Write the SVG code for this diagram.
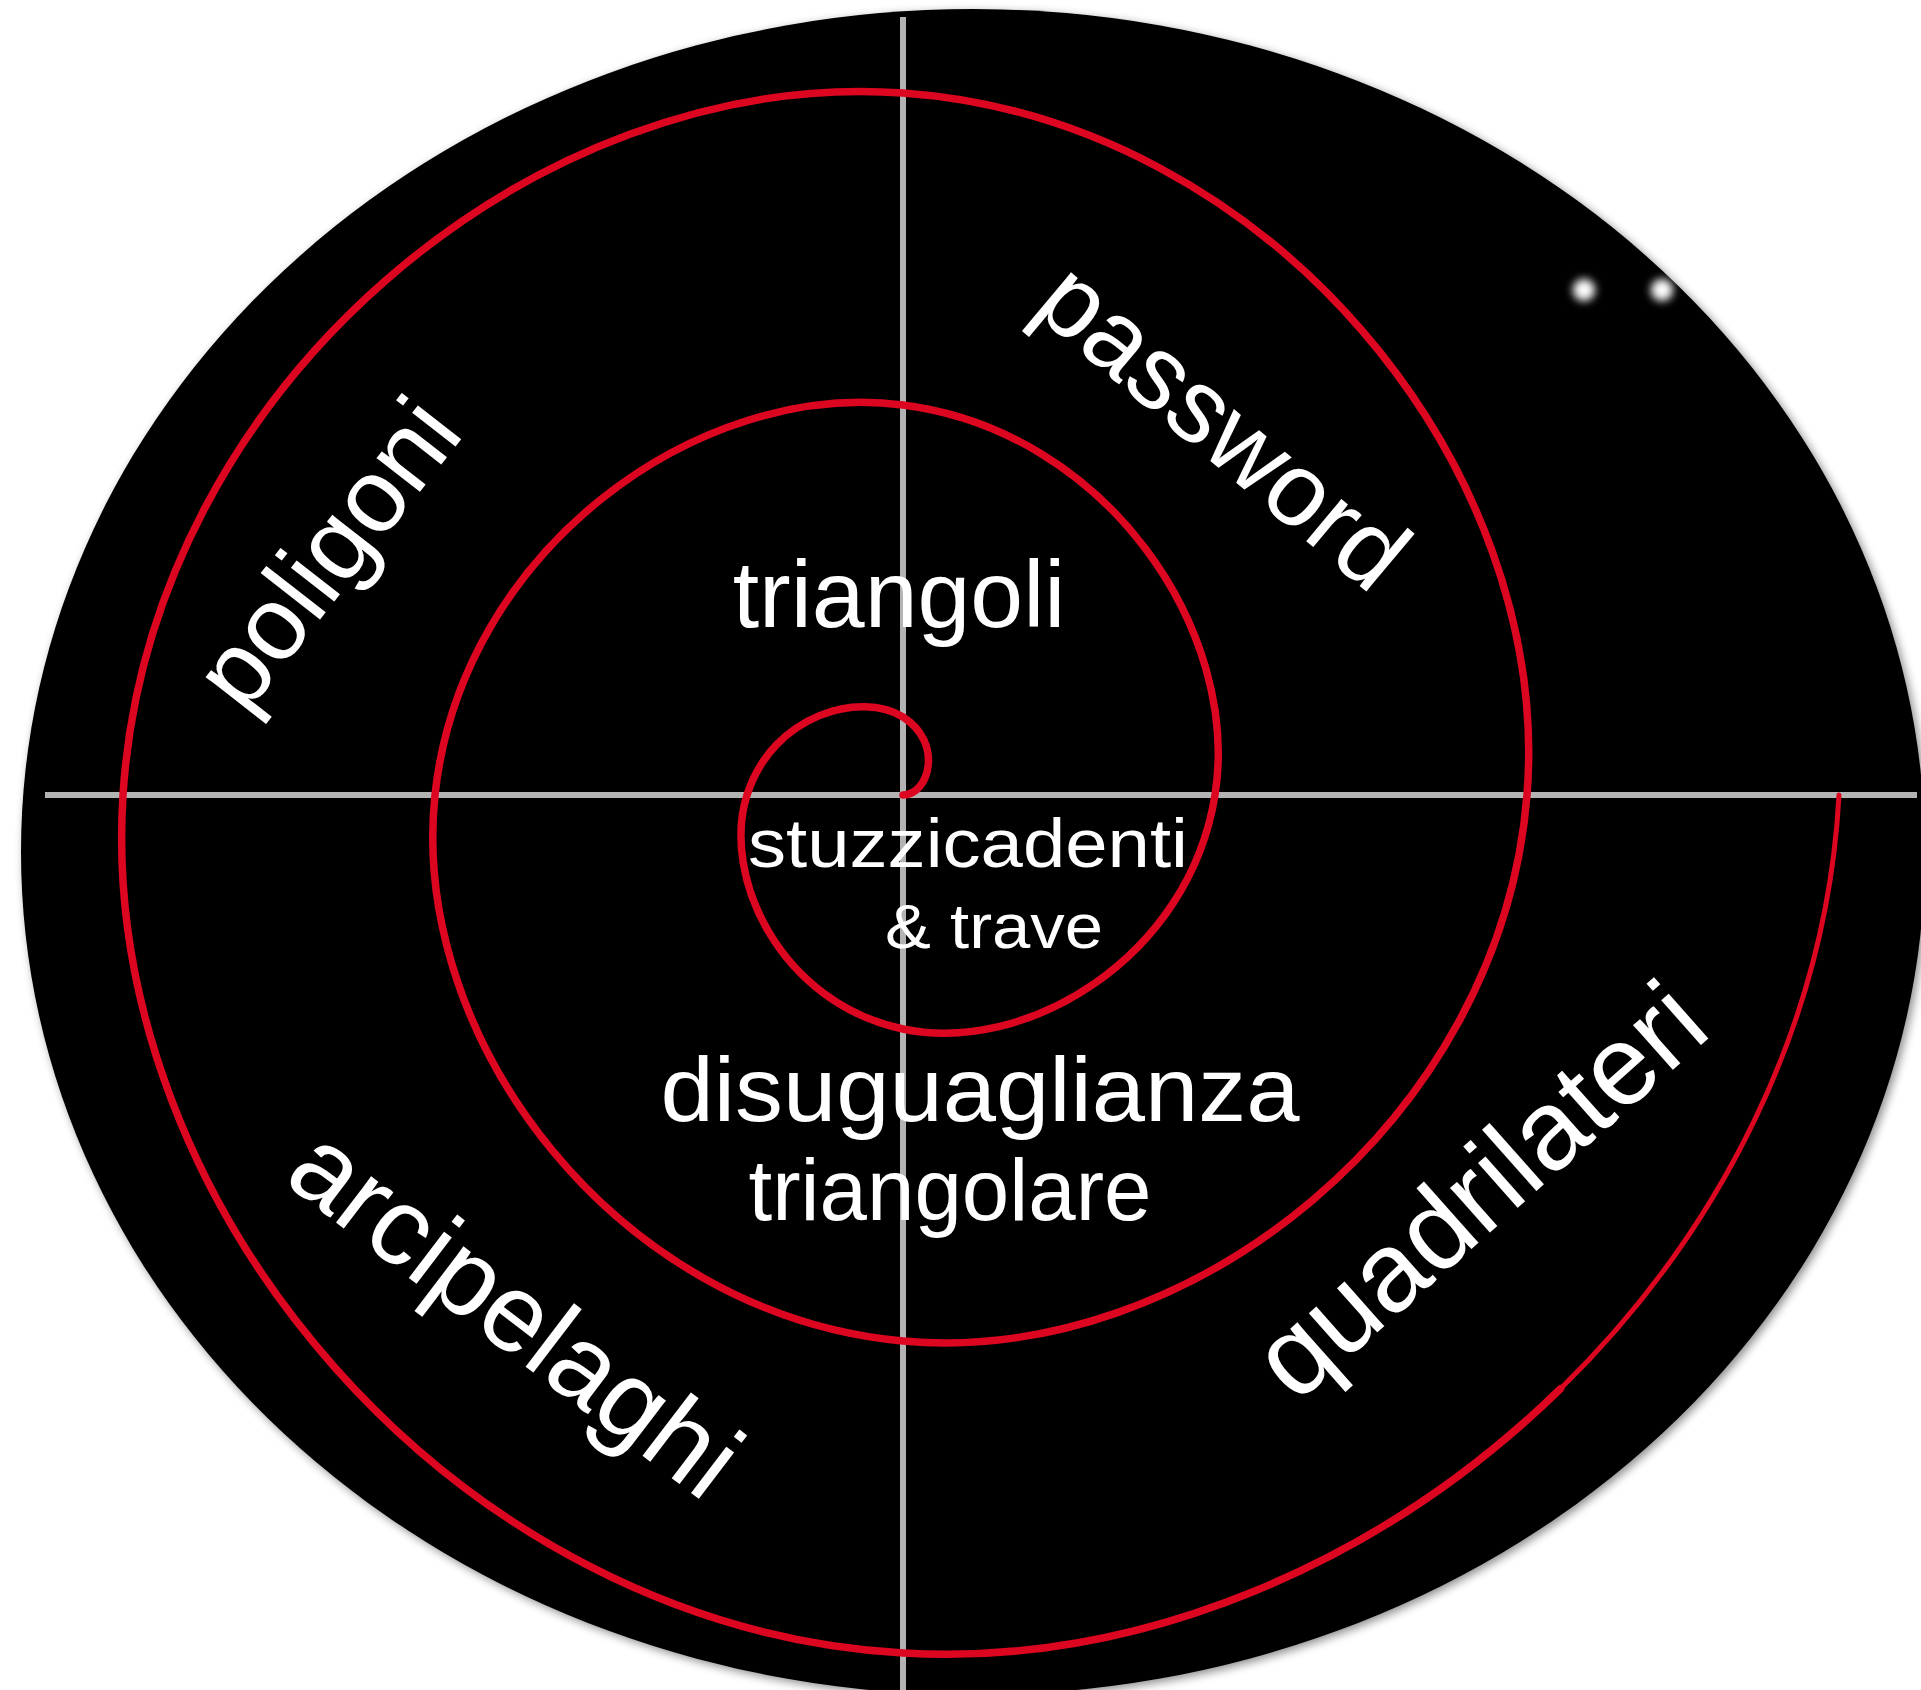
<svg xmlns="http://www.w3.org/2000/svg" width="1921" height="1690" viewBox="0 0 1921 1690">
<defs>
<filter id="shadow" x="-5%" y="-5%" width="110%" height="110%">
<feGaussianBlur in="SourceAlpha" stdDeviation="5"/>
<feOffset dx="3" dy="3"/>
<feComponentTransfer><feFuncA type="linear" slope="0.45"/></feComponentTransfer>
<feMerge><feMergeNode/><feMergeNode in="SourceGraphic"/></feMerge>
</filter>
<filter id="glow" x="-100%" y="-100%" width="300%" height="300%"><feGaussianBlur stdDeviation="4"/></filter>
<style>
.axis{stroke:#b3b3b3;stroke-width:6;fill:none}
.spiral{fill:none;stroke:#dc0620;stroke-width:7.5;stroke-linecap:round}
.spiral-thin{fill:none;stroke:#dc0620;stroke-width:5;stroke-linecap:round}
.lbl{fill:#ffffff;font-family:"Liberation Sans",Arial,sans-serif;text-anchor:middle}
</style>
</defs>
<rect width="1921" height="1690" fill="#ffffff"/>
<g id="background">
<ellipse cx="973" cy="852" rx="952" ry="843" fill="#000000" filter="url(#shadow)"/>
<circle cx="1584" cy="290" r="11" fill="#ffffff" filter="url(#glow)"/>
<circle cx="1662" cy="290" r="11" fill="#ffffff" filter="url(#glow)"/>
</g>
<g id="connectors">
<line class="axis" x1="903" y1="17" x2="903" y2="1690"/>
<line class="axis" x1="45" y1="795" x2="1917" y2="795"/>
<path class="spiral" d="M903,795 C929,795 944,743 903,717 C862,691 773,713.3 747,795 C721,876.7 780.5,1003 903,1029 C1025.5,1055 1189,958.4 1215,795 C1241,631.6 1107.2,431 903,405 C698.8,379 461,550 435,795 C409,1040 617.1,1315 903,1341 C1188.9,1367 1501,1121.7 1527,795 C1553,468.3 1270.6,119 903,93 C535.4,67 149,386.6 123,795 C97,1203.4 453.8,1627 903,1653 C1141.1,1666.8 1382.4,1562.6 1560.5,1388.7"/>
<path class="spiral-thin" d="M1560.5,1388.7 C1718.5,1234.4 1826.8,1025.3 1839,795"/>
</g>
<g id="node-triangoli"><text class="lbl" x="899" y="627" font-size="95">triangoli</text></g>
<g id="node-stuzzicadenti">
<text class="lbl" x="968" y="867" font-size="68" textLength="440" lengthAdjust="spacingAndGlyphs">stuzzicadenti</text>
<text class="lbl" x="994" y="948" font-size="63" textLength="218" lengthAdjust="spacingAndGlyphs">&amp; trave</text>
</g>
<g id="node-disuguaglianza">
<text class="lbl" x="980" y="1121" font-size="90" textLength="639" lengthAdjust="spacingAndGlyphs">disuguaglianza</text>
<text class="lbl" x="950" y="1220" font-size="88" textLength="403" lengthAdjust="spacingAndGlyphs">triangolare</text>
</g>
<g id="node-poligoni"><text class="lbl" font-size="104" transform="translate(355,575) rotate(-52)">poligoni</text></g>
<g id="node-password"><text class="lbl" font-size="104" transform="translate(1201,453) rotate(40)">password</text></g>
<g id="node-arcipelaghi"><text class="lbl" font-size="110" transform="translate(493,1342) rotate(37.3)">arcipelaghi</text></g>
<g id="node-quadrilateri"><text class="lbl" font-size="113" transform="translate(1505,1219) rotate(-41.6)">quadrilateri</text></g>
</svg>
